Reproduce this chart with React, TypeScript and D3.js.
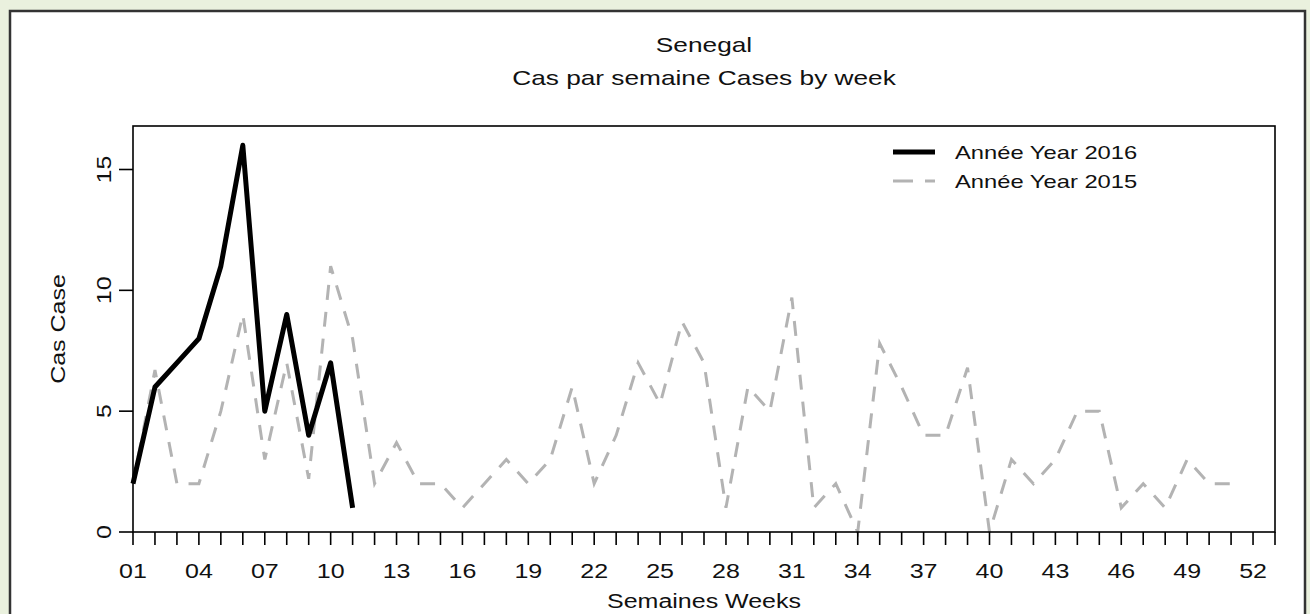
import * as d3 from "d3";
import { useEffect } from "react";

// weekly case counts
const weeks2016 = [1, 2, 3, 4, 5, 6, 7, 8, 9, 10, 11];
const cases2016 = [2, 6, 7, 8, 11, 16, 5, 9, 4, 7, 1];

const weeks2015 = d3.range(1, 52);
const cases2015 = [
  2, 6.7, 2, 2, 5, 9, 3, 7, 2.2, 11, 8, 2, 3.7, 2, 2, 1, 2, 3, 2, 3, 6, 2, 4, 7,
  5.3, 8.7, 7, 1, 6, 5, 9.7, 1, 2, 0, 7.8, 6, 4, 4, 6.8, 0, 3, 2, 3, 5, 5, 1, 2,
  1, 3, 2, 2,
];

const yTicks = [0, 5, 10, 15];
const xTickWeeks = d3.range(1, 54);
const xLabelWeeks = d3.range(1, 53, 3);

const title = "Senegal";
const subtitle = "Cas par semaine Cases by week";
const xTitle = "Semaines Weeks";
const yTitle = "Cas Case";
const legendItems = ["Année Year 2016", "Année Year 2015"];

const W = 1310;
const H = 614;
const plot = { left: 133, right: 1275, top: 126, bottom: 532 };
const FONT = "'Liberation Sans', Arial, Helvetica, sans-serif";
const SX = 1.25; // text in the original is horizontally stretched

export default function App() {
  useEffect(() => {
    document.body.style.margin = "0";
  }, []);

  const x = d3.scaleLinear().domain([1, 53]).range([plot.left, plot.right]);
  const y = d3.scaleLinear().domain([0, 16.8]).range([plot.bottom, plot.top]);

  const line = d3
    .line<[number, number]>()
    .x((d) => x(d[0]))
    .y((d) => y(d[1]));

  const d2016 = line(weeks2016.map((w, i) => [w, cases2016[i]]));
  const d2015 = line(weeks2015.map((w, i) => [w, cases2015[i]]));

  const txt = (
    s: string,
    tx: number,
    ty: number,
    size: number,
    rotate = 0,
    anchor = "middle",
  ) => (
    <text
      transform={`translate(${tx},${ty}) rotate(${rotate}) scale(${SX},1)`}
      fontSize={size}
      fontFamily={FONT}
      textAnchor={anchor}
      fill="#111"
    >
      {s}
    </text>
  );

  const cx = (plot.left + plot.right) / 2;
  const cy = (plot.top + plot.bottom) / 2;

  return (
    <svg
      width={W}
      height={H}
      style={{ position: "absolute", left: 0, top: 0, display: "block" }}
    >
      <rect width={W} height={H} fill="#eaf1de" />
      <rect
        x={10}
        y={11}
        width={1295}
        height={H}
        fill="#fff"
        stroke="#333"
        strokeWidth={2.5}
      />

      {txt(title, cx, 52, 21)}
      {txt(subtitle, cx, 85, 21)}

      {/* data */}
      <path
        d={d2015 ?? ""}
        fill="none"
        stroke="#b3b3b3"
        strokeWidth={3}
        strokeDasharray="15 12"
      />
      <path
        d={d2016 ?? ""}
        fill="none"
        stroke="#000"
        strokeWidth={5}
        strokeLinejoin="round"
      />

      {/* box */}
      <rect
        x={plot.left}
        y={plot.top}
        width={plot.right - plot.left}
        height={plot.bottom - plot.top}
        fill="none"
        stroke="#000"
        strokeWidth={1.6}
      />

      {/* x axis */}
      {xTickWeeks.map((w) => (
        <line
          key={w}
          x1={x(w)}
          x2={x(w)}
          y1={plot.bottom}
          y2={plot.bottom + 13}
          stroke="#000"
          strokeWidth={1.6}
        />
      ))}
      {xLabelWeeks.map((w) => (
        <g key={w}>{txt(String(w).padStart(2, "0"), x(w), 578, 20)}</g>
      ))}
      {txt(xTitle, cx, 608, 20)}

      {/* y axis */}
      {yTicks.map((v) => (
        <g key={v}>
          <line
            x1={plot.left - 14}
            x2={plot.left}
            y1={y(v)}
            y2={y(v)}
            stroke="#000"
            strokeWidth={1.6}
          />
          {txt(String(v), 111, y(v), 20, -90)}
        </g>
      ))}
      {txt(yTitle, 65, cy, 20, -90)}

      {/* legend */}
      <line x1={893} x2={935} y1={152} y2={152} stroke="#000" strokeWidth={5} />
      <line
        x1={893}
        x2={935}
        y1={181}
        y2={181}
        stroke="#b3b3b3"
        strokeWidth={3}
        strokeDasharray="20 12"
      />
      {txt(legendItems[0], 955, 159, 19, 0, "start")}
      {txt(legendItems[1], 955, 188, 19, 0, "start")}
    </svg>
  );
}
